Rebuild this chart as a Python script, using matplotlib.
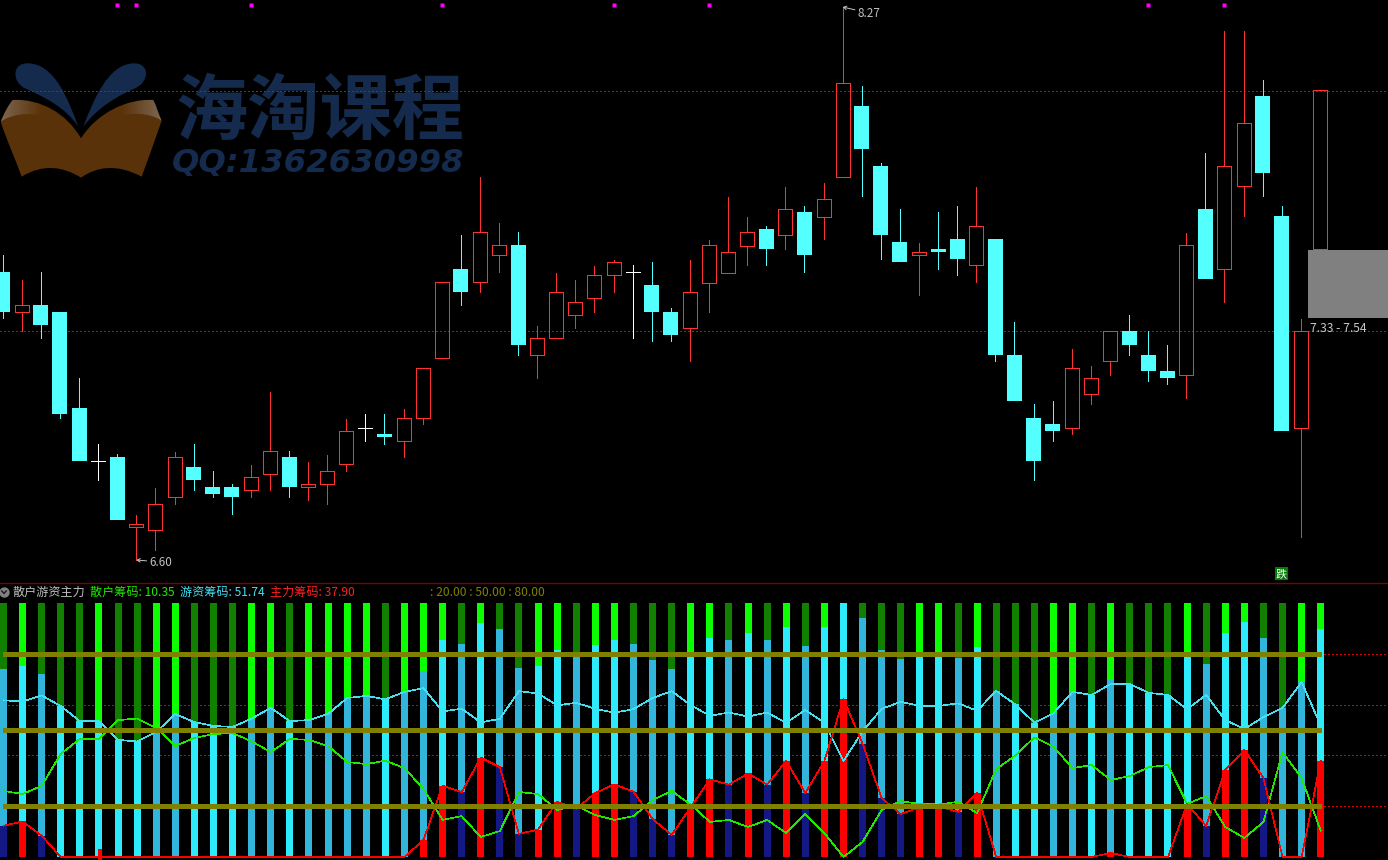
import matplotlib
matplotlib.use('Agg')
import numpy as np
import matplotlib.pyplot as plt
from matplotlib.colors import LinearSegmentedColormap
from matplotlib.patches import PathPatch, Rectangle
from matplotlib.path import Path

plt.rcParams['font.family'] = ['Noto Sans CJK SC', 'DejaVu Sans']

# daily candles
opens = [7.467, 7.346, 7.367, 7.346, 7.056, 6.896, 6.908, 6.697, 6.688, 6.787,
         6.878, 6.817, 6.817, 6.808, 6.857, 6.908, 6.817, 6.827, 6.887, 6.996,
         6.977, 6.956, 7.026, 7.207, 7.476, 7.437, 7.518, 7.548, 7.216, 7.267,
         7.337, 7.388, 7.458, 7.467, 7.428, 7.346, 7.298, 7.434, 7.464, 7.545,
         7.597, 7.578, 7.648, 7.633, 7.754, 7.968, 7.787, 7.557, 7.518, 7.536,
         7.566, 7.488, 7.566, 7.216, 7.026, 7.008, 6.996, 7.098, 7.198, 7.289,
         7.216, 7.168, 7.156, 7.657, 7.476, 7.727, 7.998, 7.636, 6.996, 7.536]
highs = [7.518, 7.443, 7.467, 7.346, 7.147, 6.947, 6.917, 6.733, 6.814, 6.923,
         6.947, 6.866, 6.827, 6.884, 7.104, 6.926, 6.893, 6.914, 7.023, 7.038,
         7.038, 7.053, 7.177, 7.437, 7.578, 7.754, 7.615, 7.588, 7.304, 7.464,
         7.443, 7.485, 7.503, 7.488, 7.497, 7.358, 7.503, 7.563, 7.693, 7.633,
         7.606, 7.723, 7.666, 7.736, 8.267, 8.029, 7.796, 7.657, 7.554, 7.648,
         7.666, 7.723, 7.566, 7.316, 7.068, 7.077, 7.234, 7.183, 7.289, 7.337,
         7.289, 7.246, 7.585, 7.826, 8.195, 8.195, 8.047, 7.666, 7.325, 8.016]
lows = [7.328, 7.289, 7.267, 7.026, 6.896, 6.839, 6.718, 6.597, 6.627, 6.766,
        6.808, 6.787, 6.736, 6.787, 6.808, 6.787, 6.778, 6.766, 6.866, 6.956,
        6.947, 6.908, 7.008, 7.207, 7.367, 7.406, 7.467, 7.216, 7.147, 7.267,
        7.298, 7.346, 7.406, 7.267, 7.258, 7.258, 7.198, 7.346, 7.464, 7.488,
        7.488, 7.536, 7.467, 7.566, 7.754, 7.696, 7.506, 7.497, 7.397, 7.476,
        7.458, 7.437, 7.198, 7.077, 6.839, 6.956, 6.977, 7.068, 7.156, 7.216,
        7.138, 7.129, 7.086, 7.446, 7.376, 7.636, 7.696, 6.987, 6.666, 7.536]
closes = [7.346, 7.367, 7.307, 7.038, 6.896, 6.896, 6.718, 6.706, 6.766, 6.908,
          6.839, 6.796, 6.787, 6.848, 6.926, 6.817, 6.827, 6.866, 6.987, 6.996,
          6.968, 7.026, 7.177, 7.437, 7.406, 7.588, 7.548, 7.246, 7.267, 7.406,
          7.376, 7.458, 7.497, 7.467, 7.346, 7.277, 7.406, 7.548, 7.527, 7.588,
          7.536, 7.657, 7.518, 7.687, 8.038, 7.838, 7.578, 7.497, 7.527, 7.527,
          7.506, 7.606, 7.216, 7.077, 6.896, 6.987, 7.177, 7.147, 7.289, 7.246,
          7.168, 7.147, 7.548, 7.446, 7.787, 7.917, 7.766, 6.987, 7.289, 8.016]

price_levels = [8.013, 7.289]
signal_days = [6, 7, 13, 23, 32, 37, 60, 64]

# chip shares per day, they add up to 100
retail = [26.0, 24.8, 28.0, 40.6, 46.5, 46.5, 53.9, 54.5, 50.8, 43.7,
          46.9, 48.4, 48.8, 45.5, 41.3, 46.5, 46.1, 43.7, 37.4, 36.6,
          37.9, 35.0, 26.8, 14.6, 16.1, 7.9, 10.2, 25.6, 24.8, 18.5,
          20.3, 16.5, 14.6, 16.1, 22.4, 26.0, 20.6, 13.8, 14.6, 11.8,
          14.6, 9.4, 16.9, 9.4, 0.0, 5.9, 18.5, 22.0, 20.9, 20.7,
          21.7, 17.3, 34.6, 39.9, 47.1, 43.4, 35.0, 36.2, 30.3, 31.9,
          35.4, 36.2, 20.9, 24.0, 11.8, 7.5, 13.8, 41.3, 31.1, 10.35]
hot_money = [61.7, 61.2, 63.6, 59.4, 53.5, 53.5, 46.1, 45.5, 49.2, 56.3,
             53.1, 51.6, 51.2, 54.5, 58.7, 53.5, 53.9, 56.3, 62.6, 63.4,
             62.1, 65.0, 66.5, 57.3, 58.4, 53.0, 54.4, 65.3, 64.4, 59.7,
             60.7, 58.3, 56.8, 58.2, 62.6, 65.3, 59.8, 55.6, 56.9, 55.3,
             56.9, 52.8, 57.9, 52.8, 37.8, 49.5, 58.3, 61.1, 59.5, 59.5,
             60.5, 57.6, 65.4, 60.1, 52.9, 56.6, 65.0, 63.8, 68.1, 68.1,
             64.6, 63.8, 58.2, 63.8, 53.9, 50.4, 55.1, 58.7, 68.9, 51.74]
main_force = [12.3, 14.0, 8.4, 0, 0, 0, 0, 0, 0, 0,
              0, 0, 0, 0, 0, 0, 0, 0, 0, 0,
              0, 0, 6.7, 28.1, 25.5, 39.1, 35.4, 9.1, 10.8, 21.8,
              19.0, 25.2, 28.6, 25.7, 15.0, 8.7, 19.6, 30.6, 28.5, 32.9,
              28.5, 37.8, 25.2, 37.8, 62.2, 44.6, 23.2, 16.9, 19.6, 19.8,
              17.8, 25.1, 0, 0, 0, 0, 0, 0, 1.6, 0,
              0, 0, 20.9, 12.2, 34.3, 42.1, 31.1, 0, 0, 37.9]

olive_levels = [20, 50, 80]
dotted_levels = [20, 40, 60, 80]

RED = '#ff3232'
CYAN = '#54ffff'
STEP = 19.09   # pixels per day
W, H = 1388, 860
PX = 0.72      # one pixel in points
DOTS = (0, (1.2, 2.4))

days = list(range(len(opens)))

fig = plt.figure(figsize=(W / 100, H / 100), dpi=100, facecolor='black')


def pixel_axes(top, bottom, zorder, first_x):
    ax = fig.add_axes([0, 1 - bottom / H, 1, (bottom - top) / H], zorder=zorder)
    ax.set_facecolor('none')
    ax.axis('off')
    ax.set_xlim(-first_x / STEP, (W - first_x) / STEP)
    return ax


# logo watermark sits under everything, drawn in screen pixels
ax_logo = fig.add_axes([0, 0, 1, 1], zorder=0)
ax_logo.set_facecolor('black')
ax_logo.axis('off')


def logo_shape(points, color):
    # points are in the scale of the logo crop: x / 3, 50 + y / 3
    verts = [(x / 3, 50 + y / 3) for x, y in points]
    codes = [Path.MOVETO] + [Path.CURVE4] * (len(verts) - 1)
    patch = PathPatch(Path(verts, codes), fc=color, ec='none')
    ax_logo.add_patch(patch)
    return patch


def page_shade(points, pale_side):
    # page top fading from pale at the outer edge into the brown
    patch = logo_shape(points, 'none')
    xs = [p[0] / 3 for p in points]
    ys = [50 + p[1] / 3 for p in points]
    ramp = np.linspace(0, 1, 64).reshape(1, -1)
    if pale_side == 'right':
        ramp = ramp[:, ::-1]
    cmap = LinearSegmentedColormap.from_list('page', ['#7d6650', '#5a3209', '#5a3209'])
    im = ax_logo.imshow(ramp, cmap=cmap, aspect='auto', zorder=1,
                        extent=[min(xs), max(xs), max(ys), min(ys)])
    im.set_clip_path(patch)


NAVY_LOGO = '#142b4d'
logo_shape([(235, 230), (205, 150), (165, 42), (85, 40), (35, 38), (35, 95), (75, 115),
            (130, 140), (195, 170), (235, 230)], NAVY_LOGO)
logo_shape([(250, 230), (280, 150), (325, 42), (400, 40), (450, 38), (450, 95), (405, 115),
            (350, 140), (295, 170), (250, 230)], NAVY_LOGO)
page_shade([(2, 215), (12, 190), (25, 165), (38, 150), (120, 145), (200, 190), (243, 265),
            (160, 230), (80, 190), (2, 215)], 'left')
page_shade([(485, 212), (475, 190), (470, 170), (460, 150), (380, 145), (290, 190), (243, 265),
            (320, 230), (400, 190), (485, 212)], 'right')
brown = logo_shape([(2, 215), (70, 170), (180, 195), (243, 265), (310, 195), (420, 170), (485, 212),
                    (465, 270), (445, 325), (425, 380), (350, 340), (290, 350), (243, 383),
                    (190, 350), (130, 340), (65, 380), (45, 325), (20, 270), (2, 215)], '#5a3209')
brown.set_zorder(2)
ax_logo.text(176, 113, '海淘课程', color=NAVY_LOGO, fontsize=52, fontweight='black',
             va='center', ha='left', zorder=3)
ax_logo.text(172, 163, 'QQ:1362630998', color=NAVY_LOGO, fontsize=23.2, fontweight='bold',
             fontstyle='oblique', family='DejaVu Sans', va='center', ha='left', zorder=3)
ax_logo.set_xlim(0, W)
ax_logo.set_ylim(H, 0)

# candles
ax_price = pixel_axes(0, 583, 1, 2.7)
ax_price.set_ylim(6.5276, 8.2882)

for level in price_levels:
    ax_price.axhline(level, color='#e00000', lw=0.8, ls=DOTS, antialiased=False, zorder=1)

for d in days:
    top, bottom = max(opens[d], closes[d]), min(opens[d], closes[d])
    if closes[d] > opens[d]:
        color = RED
    elif closes[d] < opens[d]:
        color = CYAN
    else:
        color = 'white'
    ax_price.vlines(d, top, highs[d], color=color, lw=PX, antialiased=False, zorder=2)
    ax_price.vlines(d, lows[d], bottom, color=color, lw=PX, antialiased=False, zorder=2)
    if color == RED:
        ax_price.add_patch(Rectangle((d - 7 / STEP, bottom), 14 / STEP, top - bottom, fc='none',
                                     ec=RED, lw=PX, antialiased=False, zorder=3))
    elif color == CYAN:
        ax_price.bar(d, top - bottom, bottom=bottom, width=15 / STEP, color=CYAN, antialiased=False, zorder=3)
    else:
        ax_price.hlines(top, d - 7 / STEP, d + 7 / STEP, color='white', lw=PX, antialiased=False, zorder=3)

ax_price.plot(signal_days, [8.273] * len(signal_days), ls='none', marker='s', ms=2.4,
              mfc='#ff00ff', mec='none', zorder=4)

# pending range box on the right
ax_price.add_patch(Rectangle((68.38, 7.328), 5, 0.205, fc='#808080', ec='none', zorder=5))
ax_price.text(68.47, 7.295, '7.33 - 7.54', color='#c8c8c8', fontsize=8.7, va='center', ha='left', zorder=6)

arrow = dict(arrowstyle='->,head_length=0.25,head_width=0.15', color='#c0c0c0', lw=PX, shrinkA=0, shrinkB=0)
ax_price.annotate('6.60', xy=(7, 6.597), xytext=(13, -2), textcoords='offset pixels', color='#c0c0c0',
                  fontsize=8.4, va='center', ha='left', arrowprops=arrow)
ax_price.annotate('8.27', xy=(44, 8.267), xytext=(15, -6), textcoords='offset pixels', color='#c0c0c0',
                  fontsize=8.4, va='center', ha='left', arrowprops=arrow)

ax_price.add_patch(Rectangle((67 - 7 / STEP, 6.5365), 13 / STEP, 0.039, fc='#007f00', ec='none', zorder=5))
ax_price.text(67 - 0.5 / STEP, 6.556, '跌', color='white', fontsize=8, va='center', ha='center', zorder=6)

ax_price.axhline(6.5276, color='#800000', lw=PX * 1.4, zorder=2, clip_on=False)

# chip panel
ax_chip = pixel_axes(584, 860, 1, 3.5)
ax_chip.set_ylim(-1.18, 107.48)

for level in dotted_levels:
    ax_chip.axhline(level, color='#e00000', lw=0.8, ls=DOTS, antialiased=False, zorder=1)

for d in days:
    rising_main = d > 0 and main_force[d] >= main_force[d - 1]
    falling_hot = d > 0 and hot_money[d] <= hot_money[d - 1]
    falling_retail = d > 0 and retail[d] <= retail[d - 1]
    stack = main_force[d] + hot_money[d]
    ax_chip.bar(d, main_force[d], width=7 / STEP, color='#ff0000' if rising_main else '#141885',
                antialiased=False, zorder=2)
    ax_chip.bar(d, hot_money[d], bottom=main_force[d], width=7 / STEP,
                color='#2debfb' if falling_hot else '#31b5da', antialiased=False, zorder=2)
    ax_chip.bar(d, 100 - stack, bottom=stack, width=7 / STEP,
                color='#0cff00' if falling_retail else '#118000', antialiased=False, zorder=2)

# odd little red tick at the bottom of day 5
ax_chip.bar(5 + 1 / STEP, 4.3, bottom=-1.2, width=4 / STEP, color='#ff0000', antialiased=False, zorder=3)

ax_chip.plot(days, hot_money, color='#45dff0', lw=0.45, antialiased=False, zorder=3)
ax_chip.plot(days, retail, color='#20e800', lw=0.45, antialiased=False, zorder=3)
ax_chip.plot(days, main_force, color='#ff0000', lw=0.45, antialiased=False, zorder=3)

for level in olive_levels:
    ax_chip.hlines(level, -0.05, 69, color='#808000', lw=2.3, antialiased=False, zorder=4)

# header row, placed in screen pixels
ax_text = fig.add_axes([0, 0, 1, 1], zorder=3)
ax_text.set_xlim(0, W)
ax_text.set_ylim(H, 0)
ax_text.axis('off')
ax_text.set_facecolor('none')

ax_text.plot([4], [592], marker='o', ms=7.5, mfc='#808080', mec='none')
ax_text.plot([1.8, 4, 6.2], [591, 593.5, 591], color='#1a1a1a', lw=1.0)
header = [(13, '散户游资主力', '#c0c0c0'),
          (90, '散户筹码: 10.35', '#20e800'),
          (180, '游资筹码: 51.74', '#45dff0'),
          (270, '主力筹码: 37.90', '#ff2020'),
          (430, ': 20.00 : 50.00 : 80.00', '#808000')]
for x, label, color in header:
    ax_text.text(x, 592, label, color=color, fontsize=8.7, va='center', ha='left')

fig.savefig('out.png', dpi=100, facecolor='black')
